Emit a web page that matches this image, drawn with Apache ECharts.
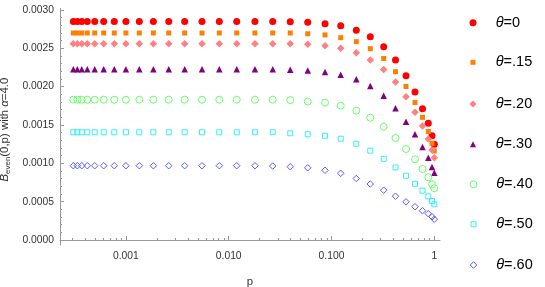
<!DOCTYPE html>
<html><head><meta charset="utf-8">
<script src="https://cdn.jsdelivr.net/npm/echarts@6/dist/echarts.min.js"></script>
<style>html,body{margin:0;padding:0;background:#fff}#c{width:545px;height:287px}</style>
</head><body><div id="c"></div>
<script>
// ---- data ----
const p = [3.08e-4, 3.37e-4, 3.72e-4, 4.21e-4, 4.97e-4, 6.08e-4, 7.71e-4, 1.0e-3, 1.35e-3, 1.85e-3,
  2.61e-3, 3.73e-3, 5.5e-3, 8.1e-3, 0.01197, 0.0180, 0.0268, 0.0397, 0.0587, 0.0865,
  0.1229, 0.1743, 0.2384, 0.322, 0.4194, 0.5305, 0.649, 0.768, 0.874, 0.950, 1.0];

const theta00 = [0.00285,0.00285,0.00285,0.00285,0.00285,0.00285,0.00285,0.00285,0.00285,0.00285,
  0.00285,0.00285,0.00285,0.00285,0.00285,0.00285,0.00285,0.002848,0.002839,0.002821,
  0.002795,0.002735,0.002652,0.002521,0.002348,0.002143,0.00193,0.001713,0.001522,0.00136,0.001248];
const theta15 = [0.0027,0.0027,0.0027,0.0027,0.0027,0.0027,0.0027,0.0027,0.0027,0.0027,
  0.0027,0.0027,0.0027,0.0027,0.0027,0.0027,0.0027,0.0027,0.00269,0.002675,
  0.002639,0.002587,0.002495,0.002367,0.002195,0.002002,0.001793,0.0016,0.001415,0.001261,0.001161];
const theta20 = [0.00256,0.00256,0.00256,0.00256,0.00256,0.00256,0.00256,0.00256,0.00256,0.00256,
  0.00256,0.00256,0.00256,0.00256,0.00256,0.00256,0.00256,0.00256,0.002552,0.002534,
  0.0025,0.002443,0.002348,0.002224,0.002061,0.001869,0.001666,0.001487,0.001317,0.001174,0.001073];
const theta30 = [0.002226,0.002226,0.002226,0.002226,0.002226,0.002226,0.002226,0.002226,0.002226,0.002226,
  0.002226,0.002226,0.002226,0.002226,0.002226,0.002226,0.002226,0.00222,0.002211,0.002191,
  0.002155,0.002097,0.002009,0.001882,0.001718,0.001543,0.001379,0.001213,0.001073,0.000952,0.000878];
const theta40 = [0.00183,0.00183,0.00183,0.00183,0.00183,0.00183,0.00183,0.00183,0.00183,0.00183,
  0.00183,0.00183,0.00183,0.00183,0.00183,0.00183,0.00183,0.001825,0.001806,0.001791,
  0.001752,0.001687,0.001595,0.001477,0.00133,0.001187,0.001053,0.000926,0.000818,0.000726,0.000674];
const theta50 = [0.001405,0.001405,0.001405,0.001405,0.001405,0.001405,0.001405,0.001405,0.001405,0.001405,
  0.001405,0.001405,0.001405,0.001405,0.001405,0.001405,0.001405,0.001392,0.001379,0.00136,
  0.001321,0.001256,0.001165,0.001059,0.000946,0.000839,0.000734,0.000643,0.00057,0.000509,0.000466];
const theta60 = [0.000969,0.000969,0.000969,0.000969,0.000969,0.000969,0.000969,0.000969,0.000969,0.000969,
  0.000969,0.000969,0.000969,0.000969,0.000969,0.000969,0.000965,0.000956,0.000942,0.000909,
  0.00087,0.000802,0.00073,0.00065,0.000571,0.000498,0.000434,0.000382,0.000343,0.000303,0.000271];

const seriesNames = ['θ=0', 'θ=.15', 'θ=.20', 'θ=.30', 'θ=.40', 'θ=.50', 'θ=.60'];
const seriesValues = [theta00, theta15, theta20, theta30, theta40, theta50, theta60];

const yMajorTicks = [0, 0.0005, 0.001, 0.0015, 0.002, 0.0025, 0.003];
const yTickLabels = ['0.0000', '0.0005', '0.0010', '0.0015', '0.0020', '0.0025', '0.0030'];
const yMinorTicks = [0.0001,0.0002,0.0003,0.0004,0.0006,0.0007,0.0008,0.0009,0.0011,0.0012,0.0013,0.0014,
  0.0016,0.0017,0.0018,0.0019,0.0021,0.0022,0.0023,0.0024,0.0026,0.0027,0.0028,0.0029];
const xMajorTicks = [0.001, 0.01, 0.1, 1];
const xTickLabels = ['0.001', '0.010', '0.100', '1'];
const xMinorTicks = [0.0003,0.0004,0.0005,0.0006,0.0007,0.0008,0.0009,
  0.002,0.003,0.004,0.005,0.006,0.007,0.008,0.009,
  0.02,0.03,0.04,0.05,0.06,0.07,0.08,0.09,
  0.2,0.3,0.4,0.5,0.6,0.7,0.8,0.9];

// ---- styles ----
const FONT = 'Liberation Sans, Arial, sans-serif';
const styles = [
  {symbol: 'circle', size: 7, color: '#ff0000', hollow: false, legendSize: 7},
  {symbol: 'rect', size: 5, color: '#ff8000', hollow: false, legendSize: 5},
  {symbol: 'diamond', size: 7.5, color: '#ff8080', hollow: false, legendSize: 7},
  {symbol: 'triangle', size: 6.5, color: '#800080', hollow: false, legendSize: 6},
  {symbol: 'circle', size: 7, color: '#66ff66', hollow: true, legendSize: 7},
  {symbol: 'rect', size: 5, color: '#33eeff', hollow: true, legendSize: 5},
  {symbol: 'diamond', size: 6.5, color: '#5a5aff', hollow: true, legendSize: 6.5}
];
const legendCenters = [22.7, 62.3, 104, 144.3, 184.3, 224.3, 265];
const legendIconX = 473, legendTextX = 495.7;

const axisColor = '#999';
const labelColor = '#333';

const yMin = -0.0000652, yMax = 0.003022;
const xMin = 0.0002285, xMax = 1.136;

const option = {
  animation: false,
  backgroundColor: '#fff',
  grid: {left: 60, right: 105, top: 8.3, bottom: 42, containLabel: false, outerBoundsMode: 'none'},
  xAxis: [
    {
      type: 'log', logBase: 10, min: xMin, max: xMax, position: 'bottom',
      axisLine: {show: true, lineStyle: {color: axisColor, width: 1}},
      axisTick: {show: true, inside: true, length: 4, customValues: xMajorTicks, lineStyle: {color: axisColor}},
      axisLabel: {show: true, customValues: xMajorTicks, margin: 6, fontFamily: FONT, fontSize: 10.3, color: labelColor,
        formatter: v => xTickLabels[xMajorTicks.findIndex(t => Math.abs(Math.log10(t) - Math.log10(v)) < 0.01)]},
      splitLine: {show: false}, minorTick: {show: false},
      name: 'p', nameLocation: 'middle', nameGap: 31,
      nameTextStyle: {fontFamily: FONT, fontSize: 11.4, color: labelColor}
    },
    {
      type: 'log', logBase: 10, min: xMin, max: xMax, position: 'bottom', offset: 0,
      axisLine: {show: false},
      axisTick: {show: true, inside: true, length: 2, customValues: xMinorTicks, lineStyle: {color: axisColor}},
      axisLabel: {show: false}, splitLine: {show: false}
    }
  ],
  yAxis: [
    {
      type: 'value', min: yMin, max: yMax, position: 'left',
      axisLine: {show: true, lineStyle: {color: axisColor, width: 1}},
      axisTick: {show: true, inside: true, length: 4, customValues: yMajorTicks, lineStyle: {color: axisColor}},
      axisLabel: {show: true, customValues: yMajorTicks, margin: 6, fontFamily: FONT, fontSize: 10.3, color: labelColor,
        formatter: v => yTickLabels[yMajorTicks.findIndex(t => Math.abs(t - v) < 1e-7)]},
      splitLine: {show: false},
      name: '{i|B}{s|even}(0,p) with {i|α}=4.0', nameLocation: 'middle', nameGap: 46,
      nameTextStyle: {fontFamily: FONT, fontSize: 11.4, color: labelColor, padding: [0, 6, 0, 0],
        rich: {
          i: {fontFamily: FONT, fontSize: 11.4, fontStyle: 'italic', color: labelColor, lineHeight: 14},
          s: {fontFamily: FONT, fontSize: 8, color: labelColor, lineHeight: 8, verticalAlign: 'bottom'}
        }}
    },
    {
      type: 'value', min: yMin, max: yMax, position: 'left', offset: 0,
      axisLine: {show: false},
      axisTick: {show: true, inside: true, length: 2, customValues: yMinorTicks, lineStyle: {color: axisColor}},
      axisLabel: {show: false}, splitLine: {show: false}
    }
  ],
  legend: seriesNames.map((name, i) => {
    const s = styles[i].legendSize;
    return {
      data: [name], orient: 'vertical', left: legendIconX - s / 2, top: legendCenters[i] - 8, padding: 0,
      itemWidth: s, itemHeight: s, selectedMode: false,
      itemStyle: styles[i].hollow ? {borderWidth: 1, borderColor: styles[i].color, color: 'rgba(255,255,255,0)'} : {borderWidth: 0},
      textStyle: {fontFamily: FONT, fontSize: 14.5, color: '#000', lineHeight: 16,
        padding: [0, 0, 0, legendTextX - (legendIconX + s / 2 + 5)],
        rich: {
          i: {fontFamily: FONT, fontSize: 14.5, fontStyle: 'italic', color: '#000', lineHeight: 16},
          n: {fontFamily: FONT, fontSize: 14.5, color: '#000', lineHeight: 16}
        }},
      formatter: n => '{i|θ}{n|' + n.slice(1) + '}'
    };
  }),
  series: seriesNames.map((name, i) => ({
    name: name, type: 'scatter', xAxisIndex: 0, yAxisIndex: 0,
    symbol: styles[i].symbol, symbolSize: styles[i].size,
    itemStyle: styles[i].hollow
      ? {color: 'rgba(255,255,255,0)', borderColor: styles[i].color, borderWidth: 1, opacity: 1}
      : {color: styles[i].color, borderWidth: 0, opacity: 1},
    emphasis: {disabled: true},
    data: p.map((x, k) => [x, seriesValues[i][k]])
  }))
};

const chart = echarts.init(document.getElementById('c'), null, {renderer: 'canvas'});
chart.setOption(option);
</script>
</body></html>
